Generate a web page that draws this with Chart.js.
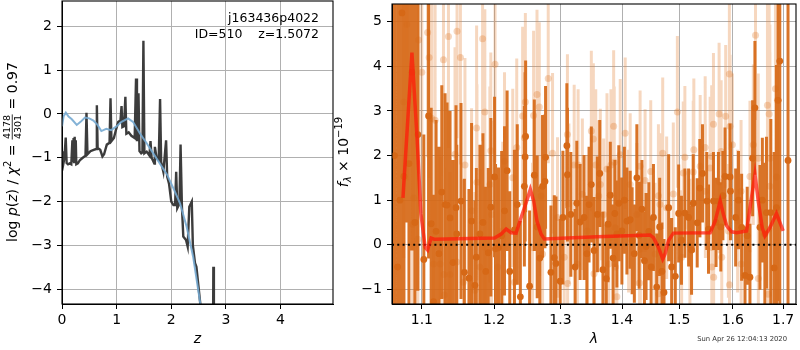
<!DOCTYPE html>
<html><head><meta charset="utf-8">
<script src="https://cdn.jsdelivr.net/npm/chart.js@4"></script>
<style>
html,body{margin:0;padding:0;background:#fff;}
#wrap{position:relative;width:800px;height:350px;overflow:hidden;background:#fff;}
#c1{position:absolute;left:0;top:0;}
#c2{position:absolute;left:330px;top:0;}
</style></head><body>
<div id="wrap"><canvas id="c1" width="345" height="350"></canvas><canvas id="c2" width="470" height="350"></canvas></div>
<script>
// ---------- Left panel data: log p(z) ----------
const zDark = [0.000,0.015,0.030,0.045,0.068,0.085,0.110,0.140,0.170,0.190,0.200,0.212,0.222,0.232,0.242,0.252,0.262,0.290,0.330,0.380,0.430,0.448,0.466,0.520,0.580,0.625,0.638,0.652,0.700,0.740,0.770,0.820,0.870,0.888,0.905,0.950,0.990,1.030,1.070,1.090,1.105,1.135,1.160,1.178,1.220,1.270,1.330,1.355,1.372,1.400,1.418,1.450,1.472,1.490,1.508,1.550,1.600,1.620,1.640,1.690,1.700,1.730,1.770,1.795,1.815,1.855,1.905,1.925,1.960,2.000,2.040,2.070,2.090,2.110,2.150,2.170,2.195,2.220,2.270,2.300,2.330,2.375,2.395,2.435,2.460,2.530,2.600,2.700,2.760,2.770,2.780,2.900];
const logpDark = [-1.05,-0.85,-1.10,-1.00,-0.54,-1.12,-1.15,-1.13,-1.15,-0.60,-1.10,-0.55,-1.10,-0.52,-1.05,-0.60,-1.15,-1.13,-1.05,-1.00,-0.95,0.03,-0.92,-0.85,-0.82,-0.80,0.20,-0.78,-0.82,-0.97,-0.92,-0.70,-0.66,0.36,-0.62,-0.55,-0.35,-0.18,-0.15,0.18,-0.30,-0.28,0.39,-0.45,-0.42,-0.50,-0.55,0.81,-0.62,0.47,-0.85,-0.90,-0.88,1.67,-0.90,-0.86,-0.95,-0.62,-1.00,-1.13,-0.75,-1.00,-1.05,0.34,-1.10,-1.32,-0.60,-1.43,-1.60,-2.00,-2.08,-2.08,-1.32,-2.15,-2.05,-0.70,-2.12,-2.80,-2.88,-3.03,-2.12,-2.00,-3.00,-3.41,-3.49,-4.32,-5.20,-6.00,-6.40,-3.49,-6.40,-7.00];
const zBlue = [0.00,0.03,0.07,0.12,0.18,0.27,0.34,0.42,0.50,0.575,0.65,0.72,0.81,0.90,0.99,1.09,1.21,1.30,1.425,1.55,1.67,1.79,1.92,2.04,2.16,2.28,2.40,2.53,2.65];
const logpBlue = [-0.28,-0.05,0.03,-0.06,-0.12,-0.25,-0.18,-0.08,-0.10,-0.15,-0.25,-0.39,-0.34,-0.37,-0.29,-0.18,-0.10,-0.18,-0.44,-0.67,-0.90,-1.13,-1.38,-1.70,-2.04,-2.57,-3.26,-4.32,-5.20];
const leftXTicks = [0,1,2,3,4];
const leftYTicks = [-4,-3,-2,-1,0,1,2];

// ---------- Right panel data: spectrum ----------
const darkLam = [1.0643,1.0682,1.0713,1.0739,1.0765,1.0804,1.0830,1.0869,1.0908,1.0947,1.1026,1.1089,1.1124,1.1156,1.1190,1.1228,1.1267,1.1312,1.1339,1.1380,1.1420,1.1462,1.1472,1.1531,1.1578,1.1642,1.1679,1.1726,1.1746,1.1797,1.1840,1.1880,1.1916,1.1953,1.2007,1.2021,1.2064,1.2110,1.2152,1.2190,1.2229,1.2298,1.2340,1.2386,1.2446,1.2457,1.2465,1.2525,1.2596,1.2640,1.2680,1.2722,1.2759,1.2768,1.2851,1.2903,1.2929,1.2995,1.3038,1.3100,1.3109,1.3163,1.3231,1.3258,1.3311,1.3374,1.3420,1.3455,1.3492,1.3536,1.3590,1.3630,1.3682,1.3737,1.3766,1.3804,1.3850,1.3880,1.3914,1.3946,1.3998,1.4040,1.4083,1.4139,1.4172,1.4210,1.4253,1.4292,1.4340,1.4384,1.4412,1.4460,1.4500,1.4541,1.4598,1.4650,1.4690,1.4727,1.4810,1.4863,1.4929,1.4989,1.5040,1.5102,1.5170,1.5224,1.5255,1.5328,1.5376,1.5426,1.5506,1.5538,1.5631,1.5680,1.5725,1.5770,1.5810,1.5851,1.5947,1.5955,1.6055,1.6110,1.6171,1.6237,1.6280,1.6334,1.6386,1.6432,1.6532,1.6580,1.6630,1.6662,1.6750,1.6818,1.6864,1.6898,1.6932,1.7101];
const darkFlux = [2.00,-0.50,1.00,5.20,1.53,6.50,1.82,3.87,0.50,2.47,-0.33,2.89,0.47,-1.28,0.30,-0.20,1.18,0.90,0.89,0.60,-0.40,0.83,0.24,0.98,-0.62,-0.75,0.53,-0.91,-0.28,0.24,0.50,-0.60,-0.18,0.84,1.52,-0.09,-0.07,0.20,0.76,1.66,-0.60,0.33,0.90,-1.17,1.31,1.97,2.43,-0.93,1.56,0.40,-0.30,1.31,1.42,1.96,-0.62,-0.29,-0.42,-0.82,0.61,2.22,1.57,0.68,-0.50,0.93,0.51,0.61,-0.20,0.90,1.35,-0.13,0.68,1.60,-0.56,-0.76,0.46,1.11,-0.30,0.70,0.24,0.93,0.31,1.00,0.53,0.56,0.09,-0.20,1.50,0.21,0.80,-0.36,-0.04,0.30,-0.50,0.61,-0.95,0.40,-0.60,-1.07,0.83,-0.50,-0.71,0.70,0.10,0.71,0.61,-0.12,0.93,0.49,1.27,1.60,0.98,0.35,0.98,0.50,0.98,0.40,1.10,1.53,1.52,1.20,0.61,1.00,0.39,-0.69,0.20,-0.73,1.94,3.07,0.39,1.00,0.24,0.72,0.72,-0.52,0.83,3.24,4.12,1.89];
const darkErr = [8,8,8,8,8,6,6,4,5,3.5,2.8,3.2,2.6,2.4,2.5,2.4,2.4,2.5,2.3,2.4,2.3,2.3,2.0,2.2,2.1,2.0,2.2,1.9,2.0,2.0,2.0,1.9,1.9,2.0,1.8,1.9,1.8,1.9,1.9,1.8,1.8,1.8,1.8,1.7,1.8,1.9,1.7,1.7,1.7,1.6,1.6,1.6,1.5,1.6,1.5,1.4,1.5,1.4,1.5,1.4,1.5,1.4,1.3,1.4,1.3,1.4,1.3,1.3,1.3,1.2,1.3,1.2,1.3,1.2,1.3,1.2,1.2,1.2,1.2,1.3,1.2,1.2,1.2,1.1,1.2,1.1,1.2,1.2,1.1,1.1,1.2,1.1,1.1,1.2,1.2,1.1,1.1,1.2,1.2,1.1,1.1,1.1,1.0,1.0,1.1,1.0,1.1,1.0,1.1,1.1,1.1,1.0,1.1,1.0,1.1,1.0,1.0,1.1,1.2,1.1,1.1,1.1,1.2,1.1,1.1,1.2,1.3,1.5,1.4,1.4,1.6,1.7,2.1,2.6,3.2,4.5,6,8];

const lightLam = [1.0762,1.0804,1.0878,1.0891,1.0947,1.0956,1.0999,1.1076,1.1097,1.1133,1.1156,1.1177,1.1244,1.1290,1.1297,1.1304,1.1358,1.1380,1.1448,1.1472,1.1476,1.1523,1.1564,1.1586,1.1679,1.1726,1.1750,1.1755,1.1797,1.1835,1.1867,1.1870,1.1939,1.1953,1.1963,1.2014,1.2054,1.2126,1.2152,1.2273,1.2298,1.2332,1.2420,1.2446,1.2461,1.2570,1.2585,1.2637,1.2672,1.2698,1.2722,1.2809,1.2876,1.2953,1.3058,1.3109,1.3112,1.3132,1.3216,1.3268,1.3279,1.3347,1.3428,1.3492,1.3525,1.3536,1.3564,1.3613,1.3639,1.3694,1.3749,1.3778,1.3815,1.3860,1.3870,1.3886,1.3890,1.3914,1.3970,1.4054,1.4112,1.4139,1.4253,1.4299,1.4309,1.4312,1.4395,1.4493,1.4568,1.4628,1.4630,1.4656,1.4704,1.4774,1.4893,1.4966,1.5043,1.5073,1.5102,1.5194,1.5255,1.5266,1.5383,1.5476,1.5480,1.5569,1.5598,1.5600,1.5602,1.5631,1.5635,1.5738,1.5740,1.5777,1.5788,1.5863,1.5915,1.5934,1.5936,1.5947,1.5991,1.6093,1.6160,1.6162,1.6334,1.6400,1.6444,1.6498,1.6500,1.6682,1.6696,1.6710,1.6716,1.6730,1.6732,1.6844,1.6864,1.6884];
const lightFlux = [3.20,4.94,0.46,1.05,0.12,4.59,3.87,4.76,4.20,2.83,-0.43,2.79,-0.43,4.15,-0.67,-1.13,4.67,-0.67,2.03,-0.39,4.79,4.20,-0.84,1.79,0.76,-1.02,2.62,1.40,-0.50,4.62,2.98,-0.06,1.35,2.11,0.68,4.05,-0.50,0.31,1.87,1.50,-0.84,2.18,2.89,2.40,3.20,-0.06,2.90,3.37,3.09,1.09,-0.21,3.73,2.05,0.61,-0.28,2.47,-0.87,0.92,1.79,-0.43,1.79,1.13,0.31,2.55,2.37,-0.65,1.79,1.09,1.35,0.68,1.70,-0.43,1.79,2.66,1.85,0.38,-0.50,-1.17,2.02,2.50,0.53,1.35,0.68,-0.86,1.76,-0.10,1.44,1.64,-0.21,1.10,-1.10,0.90,2.05,0.83,1.14,2.98,-0.28,1.61,1.96,-0.02,1.63,2.13,1.76,2.18,1.20,1.72,1.98,-0.06,-0.50,2.70,-0.73,2.93,1.41,2.09,-0.28,2.88,0.31,3.83,-0.90,2.66,2.24,0.53,1.20,-0.43,1.53,2.24,4.70,1.94,-0.76,3.13,-1.11,0.35,2.93,1.94,1.31,3.50,1.52,3.24];
const lightErr = [3.5,3.5,3.0,3.0,3.0,3.0,2.9,2.8,2.7,2.6,2.4,2.6,2.4,2.6,2.4,2.4,2.5,2.3,2.4,2.3,2.4,2.4,2.3,2.4,2.3,2.2,2.3,2.2,2.2,2.3,2.3,2.2,2.2,2.2,2.1,2.2,2.0,2.0,2.0,2.0,1.9,2.0,2.0,1.9,2.0,1.9,1.9,1.9,1.9,1.8,1.8,1.9,1.8,1.8,1.8,1.8,1.7,1.8,1.8,1.7,1.7,1.7,1.7,1.8,1.7,1.7,1.7,1.7,1.7,1.7,1.7,1.6,1.7,1.7,1.7,1.6,1.6,1.6,1.7,1.7,1.6,1.6,1.6,1.6,1.7,1.6,1.6,1.6,1.6,1.6,1.6,1.6,1.7,1.6,1.6,1.7,1.5,1.6,1.6,1.5,1.6,1.6,1.6,1.6,1.5,1.6,1.6,1.5,1.5,1.6,1.5,1.6,1.6,1.6,1.5,1.6,1.5,1.7,1.5,1.6,1.6,1.6,1.6,1.6,1.7,1.8,1.9,1.9,1.8,2.6,2.4,2.6,3.0,3.0,3.0,4.0,4.0,4.5];

const modelLam = [1.0752,1.0869,1.0934,1.0987,1.1044,1.1076,1.1123,1.1169,1.2007,1.2103,1.2176,1.2249,1.2323,1.2397,1.2472,1.2536,1.2586,1.2637,1.2698,1.2749,1.3585,1.4482,1.4541,1.4629,1.4704,1.4745,1.4805,1.4894,1.5570,1.5663,1.5758,1.5820,1.5883,1.5978,1.6075,1.6268,1.6355,1.6433,1.6498,1.6578,1.6631,1.6732,1.6864,1.7001];
const modelFlux = [1.05,4.31,2.47,0.69,-0.06,-0.12,0.15,0.12,0.15,0.24,0.35,0.27,0.26,0.61,0.94,1.24,0.98,0.53,0.24,0.13,0.18,0.22,0.16,-0.06,-0.32,-0.21,0.09,0.26,0.27,0.53,0.98,0.68,0.42,0.29,0.27,0.31,0.98,1.58,0.98,0.38,0.20,0.38,0.70,0.31];
const rightXTicks = [1.1,1.2,1.3,1.4,1.5,1.6,1.7];
const rightYTicks = [-1,0,1,2,3,4,5];

// ---------- helpers ----------
const FONT = "'DejaVu Sans', sans-serif";
const fmt = v => (v < 0 ? '\u2212' + Math.abs(v) : String(v));
const pts = (xs, ys) => xs.map((x, i) => ({x: x, y: ys[i]}));
function errSegs(xs, ys, es) {
  const out = [];
  xs.forEach((x, i) => { out.push({x: x, y: ys[i] - es[i]}, {x: x, y: ys[i] + es[i]}, {x: x, y: null}); });
  return out;
}
const frame = {
  id: 'frame',
  afterDraw(chart) {
    const {ctx, chartArea: a} = chart;
    ctx.save(); ctx.strokeStyle = '#000'; ctx.lineWidth = 1.1;
    ctx.strokeRect(a.left, a.top, a.right - a.left, a.bottom - a.top);
    ctx.restore();
  }
};
function drawRotated(ctx, parts, cx, cy) {
  ctx.save(); ctx.translate(cx, cy); ctx.rotate(-Math.PI / 2);
  ctx.fillStyle = '#000'; ctx.textBaseline = 'alphabetic'; ctx.textAlign = 'left';
  let total = 0;
  for (const p of parts) {
    ctx.font = p.f;
    p.w = p.frac ? Math.max(ctx.measureText(p.frac[0]).width, ctx.measureText(p.frac[1]).width) + 2 : ctx.measureText(p.t).width;
    total += p.w;
  }
  let x = -total / 2; const base = 5;
  for (const p of parts) {
    ctx.font = p.f;
    if (p.frac) {
      ctx.textAlign = 'center';
      ctx.fillText(p.frac[0], x + p.w / 2, base - 6.6);
      ctx.fillText(p.frac[1], x + p.w / 2, base + 4.2);
      ctx.fillRect(x + 0.5, base - 5.2, p.w - 1, 0.8);
      ctx.textAlign = 'left';
    } else {
      ctx.fillText(p.t, x, base + (p.dy || 0));
    }
    x += p.w;
  }
  ctx.restore();
}
const N14 = "14px " + FONT, I14 = "italic 14px " + FONT;
const leftText = {
  id: 'leftText',
  afterDraw(chart) {
    const ctx = chart.ctx;
    ctx.save(); ctx.fillStyle = '#000'; ctx.font = "12.5px " + FONT;
    ctx.textAlign = 'right'; ctx.textBaseline = 'middle';
    ctx.fillText('j163436p4022', 319, 19);
    ctx.fillText('ID=510    z=1.5072', 319, 35);
    ctx.restore();
    drawRotated(ctx, [
      {t: 'log ', f: N14}, {t: 'p', f: I14}, {t: '(', f: N14}, {t: 'z', f: I14}, {t: ') / ', f: N14},
      {t: '\u03c7', f: I14}, {t: '2', f: "10px " + FONT, dy: -6}, {t: ' = ', f: N14},
      {frac: ['4178', '4301'], f: "9.5px " + FONT}, {t: ' = 0.97', f: N14}
    ], 12, 152);
  }
};
const rightText = {
  id: 'rightText',
  afterDraw(chart) {
    const ctx = chart.ctx;
    drawRotated(ctx, [
      {t: 'f', f: I14}, {t: '\u03bb', f: "italic 10px " + FONT, dy: 3}, {t: ' \u00d7 10', f: N14},
      {t: '\u221219', f: "10px " + FONT, dy: -6}
    ], 13, 152);
    ctx.save(); ctx.fillStyle = '#333'; ctx.font = "6.8px " + FONT;
    ctx.textAlign = 'right'; ctx.textBaseline = 'middle';
    ctx.fillText('Sun Apr 26 12:04:13 2020', 457, 339);
    ctx.restore();
  }
};
const gridOpt = {color: '#b0b0b0', lineWidth: 1, tickColor: '#000', tickLength: 5};
const tickFont = {family: FONT, size: 14};
const fitX = s => { s.height = 46; s.paddingLeft = 0; s.paddingRight = 0; };
const fitY = s => { s.width = 62; s.paddingTop = 0; s.paddingBottom = 0; };

// ---------- left chart ----------
new Chart(document.getElementById('c1'), {
  type: 'line',
  data: {datasets: [
    {data: pts(zBlue, logpBlue), borderColor: 'rgba(118,170,210,0.9)', borderWidth: 2, pointRadius: 0, order: 0, clip: 0, tension: 0},
    {data: pts(zDark, logpDark), borderColor: 'rgba(50,50,50,0.95)', borderWidth: 2.4, pointRadius: 0, order: 1, clip: 0, tension: 0}
  ]},
  options: {
    responsive: false, animation: false, events: [],
    layout: {padding: {left: 0, top: 1, right: 12, bottom: 0}},
    plugins: {legend: {display: false}, tooltip: {enabled: false}},
    scales: {
      x: {type: 'linear', min: 0, max: 4.96,
        afterBuildTicks: s => { s.ticks = leftXTicks.map(v => ({value: v})); },
        afterFit: fitX,
        grid: gridOpt, border: {color: '#000', width: 1},
        ticks: {color: '#000', font: tickFont, padding: 3, maxRotation: 0, autoSkip: false, callback: v => fmt(v)},
        title: {display: true, text: 'z', color: '#000', font: {family: FONT, size: 14, style: 'italic'}, padding: {top: 0, bottom: 2}}
      },
      y: {type: 'linear', min: -4.34, max: 2.58,
        afterBuildTicks: s => { s.ticks = leftYTicks.map(v => ({value: v})); },
        afterFit: fitY,
        grid: gridOpt, border: {color: '#000', width: 1},
        ticks: {color: '#000', font: tickFont, padding: 5, autoSkip: false, callback: v => fmt(v)}
      }
    }
  },
  plugins: [frame, leftText]
});

// ---------- right chart ----------
new Chart(document.getElementById('c2'), {
  type: 'line',
  data: {datasets: [
    {data: pts(modelLam, modelFlux), borderColor: 'rgba(255,25,10,0.72)', borderWidth: 3.5, pointRadius: 0, order: 0, clip: 0, tension: 0},
    {data: [{x: 1.0611, y: 0}, {x: 1.7266, y: 0}], borderColor: '#000', borderWidth: 2, borderDash: [2, 3.3], pointRadius: 0, order: 1, clip: 0},
    {data: pts(darkLam, darkFlux), showLine: false, pointRadius: 3.4, pointBorderWidth: 0, pointBackgroundColor: 'rgb(214,104,22)', order: 2, clip: 0},
    {data: errSegs(darkLam, darkFlux, darkErr), borderColor: 'rgba(214,104,22,0.92)', borderWidth: 3, pointRadius: 0, spanGaps: false, order: 3, clip: 0},
    {data: pts(lightLam, lightFlux), showLine: false, pointRadius: 3.5, pointBorderWidth: 0, pointBackgroundColor: 'rgba(222,120,40,0.3)', order: 4, clip: 0},
    {data: errSegs(lightLam, lightFlux, lightErr), borderColor: 'rgba(228,135,60,0.33)', borderWidth: 3, pointRadius: 0, spanGaps: false, order: 5, clip: 0}
  ]},
  options: {
    responsive: false, animation: false, events: [],
    layout: {padding: {left: 0, top: 1, right: 2, bottom: 0}},
    plugins: {legend: {display: false}, tooltip: {enabled: false}},
    scales: {
      x: {type: 'logarithmic', min: 1.0611, max: 1.7266,
        afterBuildTicks: s => { s.ticks = rightXTicks.map(v => ({value: v})); },
        afterFit: fitX,
        grid: gridOpt, border: {color: '#000', width: 1},
        ticks: {color: '#000', font: tickFont, padding: 3, maxRotation: 0, autoSkip: false, callback: v => Number(v).toFixed(1)},
        title: {display: true, text: '\u03bb', color: '#000', font: {family: FONT, size: 14, style: 'italic'}, padding: {top: 0, bottom: 2}}
      },
      y: {type: 'linear', min: -1.33, max: 5.4,
        afterBuildTicks: s => { s.ticks = rightYTicks.map(v => ({value: v})); },
        afterFit: fitY,
        grid: gridOpt, border: {color: '#000', width: 1},
        ticks: {color: '#000', font: tickFont, padding: 5, autoSkip: false, callback: v => fmt(v)}
      }
    }
  },
  plugins: [frame, rightText]
});
</script>
</body></html>
